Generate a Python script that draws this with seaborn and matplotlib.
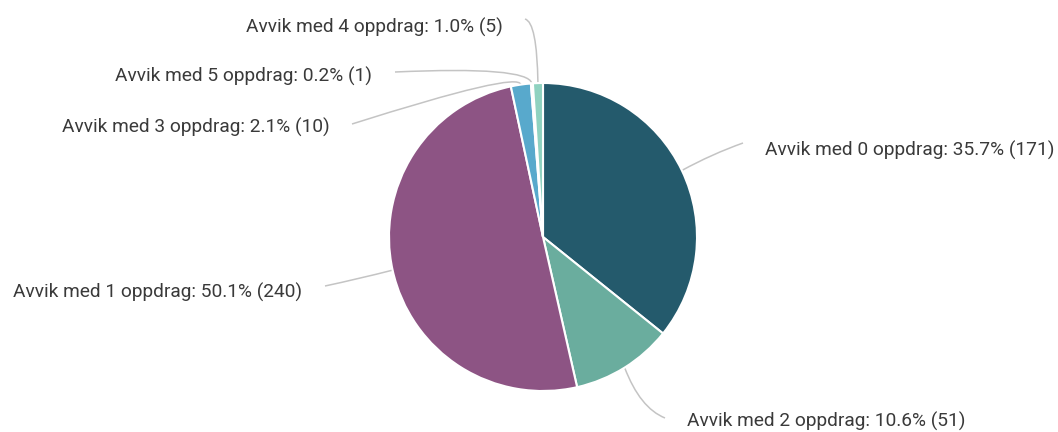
import numpy as np
import matplotlib
matplotlib.use("Agg")
import matplotlib.pyplot as plt
from matplotlib.path import Path
from matplotlib.patches import PathPatch
import seaborn as sns

# Slices in drawing order (clockwise from 12 o'clock)
categories = ["Avvik med 0 oppdrag", "Avvik med 2 oppdrag", "Avvik med 1 oppdrag",
              "Avvik med 3 oppdrag", "Avvik med 5 oppdrag", "Avvik med 4 oppdrag"]
counts = [171, 51, 240, 10, 1, 5]
percent_labels = ["35.7%", "10.6%", "50.1%", "2.1%", "0.2%", "1.0%"]
slice_colors = ["#245a6c", "#6aad9e", "#8d5484", "#58a9cc", "#e4f3ef", "#8fd2c0"]

sns.set_theme(style="white")
plt.rcParams["font.family"] = ["Roboto", "DejaVu Sans"]

W, H = 1058, 432
fig = plt.figure(figsize=(W / 100, H / 100), dpi=100)
ax = fig.add_axes([0, 0, 1, 1])

cx, cy, R = 543, 237, 154  # pie centre/radius in pixel units (y from top)
palette = sns.color_palette(slice_colors)
wedges, _ = ax.pie(counts, colors=palette, startangle=90, counterclock=False,
                   center=(cx, H - cy), radius=R,
                   wedgeprops=dict(edgecolor="white", linewidth=1.5))
ax.set_xlim(0, W)
ax.set_ylim(0, H)
ax.set_aspect("auto")
ax.axis("off")


def anchor(w):
    mid = np.deg2rad((w.theta1 + w.theta2) / 2)
    return cx + R * np.cos(mid), cy - R * np.sin(mid)


# label placement: (text x, text y, alignment, leader bend points, leader end)
layout = {
    "Avvik med 0 oppdrag": (765, 150, "left", [(712, 154)], (743, 143)),
    "Avvik med 2 oppdrag": (687, 421, "left", [(640, 408)], (665, 418)),
    "Avvik med 1 oppdrag": (302, 292, "right", [(358, 279)], (325, 286)),
    "Avvik med 3 oppdrag": (330, 127, "right", [(519, 71)], (352, 124)),
    "Avvik med 5 oppdrag": (372, 76, "right", [(528, 66)], (395, 72)),
    "Avvik med 4 oppdrag": (503, 27, "right", [(537, 22)], (525, 19)),
}

for w, cat, cnt, pct in zip(wedges, categories, counts, percent_labels):
    tx, ty, ha, bends, end = layout[cat]
    ax_, ay_ = anchor(w)
    pts = [(ax_, ay_)] + bends + [end]
    pts = [(x, H - y) for x, y in pts]
    codes = [Path.MOVETO] + [Path.CURVE3] * (len(pts) - 1)
    ax.add_patch(PathPatch(Path(pts, codes), fill=False, edgecolor="#c4c4c4",
                           linewidth=1.1, zorder=0))
    ax.text(tx, H - ty, f"{cat}: {pct} ({cnt})", ha=ha, va="center",
            fontsize=13.8, color="#3a3a3a")

fig.savefig("out.png", dpi=100, facecolor="white")
